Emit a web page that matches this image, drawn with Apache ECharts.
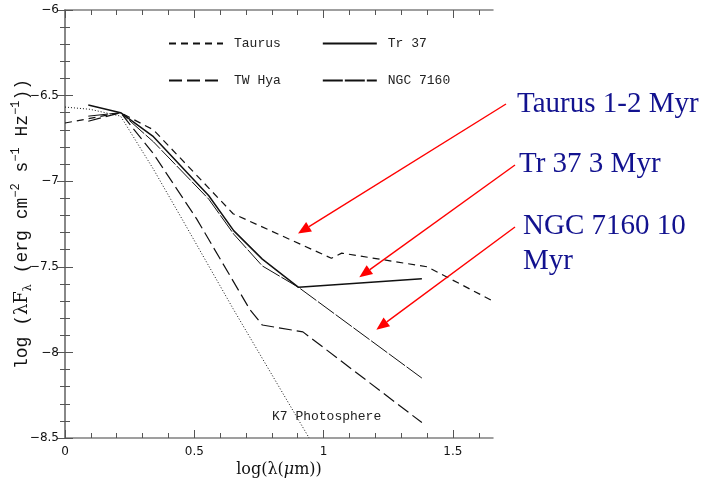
<!DOCTYPE html>
<html>
<head>
<meta charset="utf-8">
<script src="https://cdn.jsdelivr.net/npm/echarts@6/dist/echarts.min.js"></script>
<style>
  html, body { margin: 0; padding: 0; background: #fff; }
  #chart { width: 712px; height: 487px; }
</style>
</head>
<body>
<div id="chart"></div>
<script>
// Spectral energy distributions: log(lambda F_lambda) against log(lambda / micron)
const taurusX = [0, 0.215, 0.342, 0.556, 0.650, 1.030, 1.070, 1.400, 1.655];
const taurusY = [-6.66, -6.60, -6.70, -7.04, -7.19, -7.45, -7.42, -7.50, -7.70];

const tr37X = [0.090, 0.215, 0.342, 0.556, 0.653, 0.763, 0.903, 1.380];
const tr37Y = [-6.555, -6.60, -6.74, -7.085, -7.29, -7.455, -7.62, -7.57];

const twHyaX = [0.090, 0.215, 0.342, 0.509, 0.715, 0.763, 0.920, 1.380];
const twHyaY = [-6.65, -6.60, -6.84, -7.22, -7.75, -7.84, -7.88, -8.41];

const ngc7160X = [0.090, 0.215, 0.342, 0.556, 0.653, 0.763, 0.903, 1.380];
const ngc7160Y = [-6.62, -6.60, -6.77, -7.105, -7.31, -7.495, -7.62, -8.15];

const k7X = [0, 0.097, 0.215, 0.342, 0.456, 0.650, 0.944];
const k7Y = [-6.567, -6.58, -6.62, -6.93, -7.23, -7.745, -8.50];

// axis ticks
const xMajorTicks = [0, 0.5, 1, 1.5];
const xMinorTicks = [0.1, 0.2, 0.3, 0.4, 0.6, 0.7, 0.8, 0.9, 1.1, 1.2, 1.3, 1.4, 1.6];
const xMin = 0, xMax = 1.655;
const yMin = -8.5, yMax = -6;

// callouts: label text, label position, arrow tail, arrow tip (data coords)
const callouts = [
  { lines: ['Taurus 1-2 Myr'], at: [517, 104], tail: [506, 104], tip: [0.901, -7.306] },
  { lines: ['Tr 37 3 Myr'], at: [519, 164], tail: [515, 165], tip: [1.138, -7.561] },
  { lines: ['NGC 7160 10', 'Myr'], at: [523, 226], tail: [515, 227], tip: [1.204, -7.867] }
];

const zip = (xs, ys) => xs.map((x, i) => [x, ys[i]]);
const ink = '#111';
const frame = '#808080';
const tickColor = '#555';
const monoFont = 'Liberation Mono';

function minus(v) { return String(v).replace('-', '\u2212'); }

const chart = echarts.init(document.getElementById('chart'), null, { renderer: 'canvas' });

function xAxisDef(pos, major) {
  return {
    type: 'value', min: xMin, max: xMax, position: pos,
    axisLine: { show: major, lineStyle: { color: frame, width: 1.5 } },
    axisTick: {
      show: true, inside: true, length: major ? 8 : 5,
      customValues: major ? xMajorTicks : xMinorTicks,
      lineStyle: { color: tickColor, width: 1 }
    },
    axisLabel: {
      show: major && pos === 'bottom', customValues: xMajorTicks, margin: 8,
      fontFamily: 'DejaVu Sans', fontSize: 12, color: ink,
      formatter: v => minus(v)
    },
    splitLine: { show: false }
  };
}

function yAxisDef(pos) {
  return {
    type: 'value', min: yMin, max: yMax, interval: 0.5, position: pos,
    axisLine: { show: true, lineStyle: { color: frame, width: 1.5 } },
    axisTick: { show: true, inside: true, length: 8, lineStyle: { color: tickColor, width: 1 } },
    minorTick: { show: true, splitNumber: 5, length: 5, lineStyle: { color: tickColor, width: 1 } },
    axisLabel: {
      show: pos === 'left', margin: 6,
      fontFamily: 'DejaVu Sans', fontSize: 12, color: ink,
      formatter: v => minus(v)
    },
    splitLine: { show: false }
  };
}

const xAxes = [xAxisDef('bottom', true), xAxisDef('bottom', false), xAxisDef('top', true), xAxisDef('top', false)];
xAxes[0].name = 'log(\u03bb({it|\u03bc}m))';
xAxes[0].nameLocation = 'middle';
xAxes[0].nameGap = 24;
xAxes[0].nameMoveOverlap = false;
xAxes[0].nameTextStyle = {
  fontFamily: 'DejaVu Serif', fontSize: 16, color: ink,
  rich: { it: { fontFamily: 'DejaVu Serif', fontStyle: 'italic', fontSize: 16, color: ink } }
};

const yAxes = [yAxisDef('left'), yAxisDef('right')];
yAxes[0].name = 'log ({b|\u03bbF}{sub|\u03bb} (erg cm{sup|\u22122} s{sup|\u22121} Hz{sup|\u22121}))';
yAxes[0].nameLocation = 'middle';
yAxes[0].nameRotate = 90;
yAxes[0].nameGap = 31;
yAxes[0].nameMoveOverlap = false;
yAxes[0].nameTextStyle = {
  fontFamily: monoFont, fontSize: 18, color: ink, lineHeight: 24,
  rich: {
    b: { fontFamily: 'DejaVu Serif', fontSize: 18, color: ink, lineHeight: 24 },
    sub: { fontFamily: 'DejaVu Serif', fontSize: 11, color: ink, verticalAlign: 'bottom', lineHeight: 11 },
    sup: { fontFamily: monoFont, fontSize: 12, color: ink, verticalAlign: 'top', lineHeight: 12 }
  }
};

function lineSeries(name, xs, ys, width, type) {
  return {
    name, type: 'line', data: zip(xs, ys),
    xAxisIndex: 0, yAxisIndex: 0,
    symbol: 'none', smooth: false, clip: true, z: 3,
    lineStyle: { color: ink, width, type },
    itemStyle: { color: ink }
  };
}

const series = [
  lineSeries('Taurus', taurusX, taurusY, 1.2, [7, 5]),
  lineSeries('Tr 37', tr37X, tr37Y, 1.5, 'solid'),
  lineSeries('TW Hya', twHyaX, twHyaY, 1.2, [13, 5]),
  lineSeries('NGC 7160', ngc7160X, ngc7160Y, 1, [20, 2]),
  lineSeries('K7 Photosphere', k7X, k7Y, 1, [1, 2])
];

const legendText = {
  fontFamily: monoFont, fontSize: 13, color: '#222', padding: [0, 0, 0, 6]
};
function legendRow(names, top) {
  return {
    data: names, left: 168, top, orient: 'horizontal', padding: 0,
    itemWidth: 54, itemHeight: 14, itemGap: 41,
    selectedMode: false, textStyle: legendText,
    itemStyle: { opacity: 0, borderWidth: 0 }
  };
}

chart.setOption({
  animation: false,
  backgroundColor: '#fff',
  grid: { left: 65, top: 10, right: 219, bottom: 49, containLabel: false, outerBoundsMode: 'none' },
  xAxis: xAxes,
  yAxis: yAxes,
  legend: [legendRow(['Taurus', 'Tr 37'], 37), legendRow(['TW Hya', 'NGC 7160'], 74)],
  series
});

// callout arrows and labels drawn over the chart
const graphics = [];
graphics.push({
  type: 'text', left: 272, top: 410, z: 10,
  style: { text: 'K7 Photosphere', fontFamily: monoFont, fontSize: 13, fill: '#222' }
});
callouts.forEach(c => {
  const tip = chart.convertToPixel({ xAxisIndex: 0, yAxisIndex: 0 }, c.tip);
  const dx = tip[0] - c.tail[0], dy = tip[1] - c.tail[1];
  const len = Math.hypot(dx, dy);
  const ux = dx / len, uy = dy / len;
  const headLen = 13, headHalf = 5.5;
  const base = [tip[0] - ux * headLen, tip[1] - uy * headLen];
  graphics.push({
    type: 'line', z: 10,
    shape: { x1: c.tail[0], y1: c.tail[1], x2: base[0], y2: base[1] },
    style: { stroke: '#ff0000', lineWidth: 1.4 }
  });
  graphics.push({
    type: 'polygon', z: 10,
    shape: { points: [tip, [base[0] - uy * headHalf, base[1] + ux * headHalf], [base[0] + uy * headHalf, base[1] - ux * headHalf]] },
    style: { fill: '#ff0000' }
  });
  c.lines.forEach((t, i) => {
    graphics.push({
      type: 'text', z: 10, x: c.at[0], y: c.at[1] + i * 35,
      style: {
        text: t, fontFamily: 'Liberation Serif', fontSize: 29, fill: '#12128f',
        verticalAlign: 'middle', align: 'left'
      }
    });
  });
});
chart.setOption({ graphic: graphics });
</script>
</body>
</html>
